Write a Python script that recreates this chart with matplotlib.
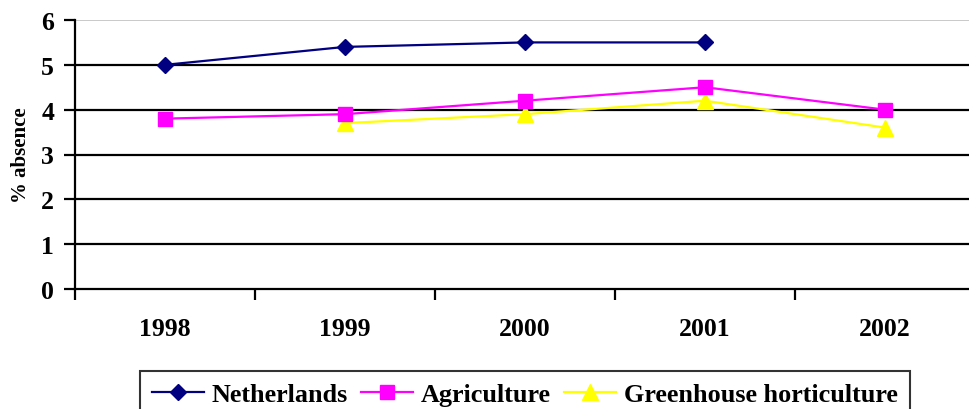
import matplotlib
matplotlib.use("Agg")
import matplotlib.pyplot as plt
import numpy as np

years = ["1998", "1999", "2000", "2001", "2002"]
netherlands = [5.0, 5.4, 5.5, 5.5, np.nan]
agriculture = [3.8, 3.9, 4.2, 4.5, 4.0]
greenhouse = [np.nan, 3.7, 3.9, 4.2, 3.6]
yticks = [0, 1, 2, 3, 4, 5, 6]

plt.rcParams['font.family'] = ['Liberation Serif', 'DejaVu Serif']
plt.rcParams['font.weight'] = 'bold'

W, H = 970, 410
fig = plt.figure(figsize=(W/100, H/100), dpi=100)
ax = fig.add_axes([75/W, 120/H, 900/W, 269/H])

x = np.arange(len(years))
ax.plot(x, netherlands, color='#000080', lw=1.6, marker='D', ms=8.5,
        mfc='#000080', mec='#000080', label='Netherlands', zorder=5)
ax.plot(x, agriculture, color='#FF00FF', lw=1.6, marker='s', ms=10,
        mfc='#FF00FF', mec='#FF00FF', label='Agriculture', zorder=4)
ax.plot(x, greenhouse, color='#FFFF00', lw=1.6, marker='^', ms=11,
        mfc='#FFFF00', mec='#FFFF00', label='Greenhouse horticulture', zorder=3)

ax.set_xlim(-0.5, len(years) - 0.5)
ax.set_ylim(0, 6)
for v in yticks[1:-1]:
    ax.axhline(v, color='black', lw=1.6, zorder=1)
ax.axhline(6, color='#c0c0c0', lw=1.2, zorder=1)

ax.set_yticks(yticks)
ax.set_yticklabels([str(v) for v in yticks], fontsize=18.5, fontweight='bold')
ax.set_xticks(x)
ax.set_xticklabels(years, fontsize=18.5, fontweight='bold')
ax.tick_params(axis='x', length=0, pad=20)
ax.set_xticks(np.arange(-0.5, len(years) + 0.5, 1.0), minor=True)
ax.tick_params(axis='x', which='minor', length=8, width=1.6, direction='out')
ax.tick_params(axis='y', length=8, width=1.6, direction='out', pad=7)

for s in ['top', 'right']:
    ax.spines[s].set_visible(False)
ax.spines['left'].set_linewidth(1.6)
ax.spines['bottom'].set_linewidth(1.6)

ax.set_ylabel('% absence', fontsize=15, fontweight='bold', labelpad=7)

leg = fig.legend(loc='upper left', bbox_to_anchor=(140/W, 38/H), ncol=3,
                 prop={'family': 'Liberation Serif', 'weight': 'bold', 'size': 18.8},
                 frameon=True, fancybox=False, edgecolor='black',
                 handlelength=2.0, handletextpad=0.3, columnspacing=0.5,
                 borderpad=0.45, borderaxespad=0)
leg.get_frame().set_linewidth(1.5)

fig.savefig('out.png', dpi=100)
